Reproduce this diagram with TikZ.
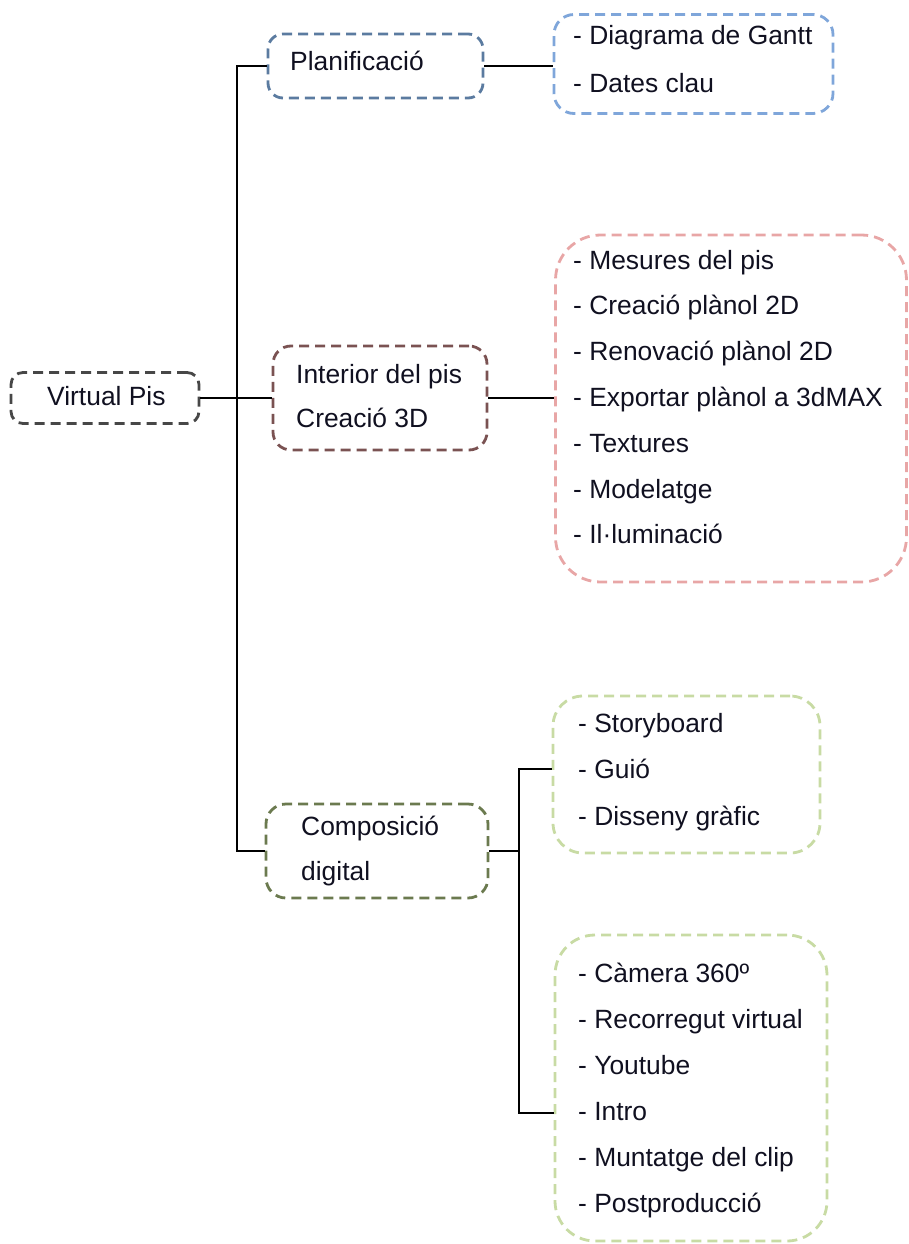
\documentclass[tikz,border=0pt]{standalone}
\usepackage{fontspec}
\setmainfont{Liberation Sans}
\definecolor{vpc}{HTML}{474747}
\definecolor{planc}{HTML}{5B7BA0}
\definecolor{bluec}{HTML}{7FA6DA}
\definecolor{interc}{HTML}{7A5252}
\definecolor{redc}{HTML}{E8A6A6}
\definecolor{compc}{HTML}{6B7A4F}
\definecolor{greenc}{HTML}{C8DBA4}
\definecolor{txt}{HTML}{101020}
\begin{document}
\begin{tikzpicture}[x=1pt,y=-1pt,
  box/.style={draw, line width=2.8pt, dash pattern=on 10pt off 6pt, inner sep=0pt},
  item/.style={anchor=base west, inner sep=0pt, font=\fontsize{26.4}{31}\selectfont, text=txt},
  link/.style={line width=1.7pt, black}]
\useasboundingbox (0,0) rectangle (909,1244);

% boxes
\node[box, draw=vpc, rounded corners=12pt, minimum width=188pt, minimum height=51pt] (vp) at (105,398) {};
\node[box, draw=planc, rounded corners=15pt, minimum width=215pt, minimum height=64pt] (plan) at (375.5,66) {};
\node[box, draw=bluec, rounded corners=20pt, minimum width=279pt, minimum height=99pt] (blue) at (693.5,64) {};
\node[box, draw=interc, rounded corners=18pt, minimum width=214pt, minimum height=104pt] (inter) at (380,398) {};
\node[box, draw=redc, rounded corners=45pt, minimum width=351pt, minimum height=347pt] (red) at (731,408.5) {};
\node[box, draw=compc, rounded corners=20pt, minimum width=222pt, minimum height=94pt] (comp) at (377,851) {};
\node[box, draw=greenc, rounded corners=30pt, minimum width=267pt, minimum height=157pt] (g1) at (686.5,774.5) {};
\node[box, draw=greenc, rounded corners=40pt, minimum width=272pt, minimum height=306pt] (g2) at (691,1088) {};

% texts
\node[item] (vpt) at (47,405) {Virtual Pis};
\node[item] (plant) at (290,71) {Planificació};
\node[item] (b1) at (573,45) {- Diagrama de Gantt};
\node[item] (b2) at (573,93) {- Dates clau};
\node[item] (i1) at (296,383) {Interior del pis};
\node[item] (i2) at (296,427) {Creació 3D};
\foreach \t [count=\i] in {- Mesures del pis, - Creació plànol 2D, - Renovació plànol 2D, - Exportar plànol a 3dMAX, - Textures, - Modelatge, - Il·luminació}
  \node[item] (r\i) at (573,{269+45.8*(\i-1)}) {\t};
\node[item] (c1) at (301,835) {Composició};
\node[item] (c2) at (301,880) {digital};
\foreach \t [count=\i] in {- Storyboard, - Guió, - Disseny gràfic}
  \node[item] (s\i) at (578,{732+46.5*(\i-1)}) {\t};
\foreach \t [count=\i] in {- Càmera 360º, - Recorregut virtual, - Youtube, - Intro, - Muntatge del clip, - Postproducció}
  \node[item] (p\i) at (578,{982+46*(\i-1)}) {\t};

% connectors
\coordinate (tk) at (237,398);
\coordinate (j1) at (519,769);
\coordinate (j2) at (519,1113);
\draw[link] (vp.east) -- (inter.west);
\draw[link] (plan.west) -- (plan.west -| tk) -- (comp.west -| tk) -- (comp.west);
\draw[link] (plan.east) -- (plan.east -| blue.west);
\draw[link] (inter.east) -- (inter.east -| red.west);
\draw[link] (comp.east) -- (comp.east -| j1);
\draw[link] (j1 -| g1.west) -- (j1) -- (j2) -- (j2 -| g2.west);
\end{tikzpicture}
\end{document}
